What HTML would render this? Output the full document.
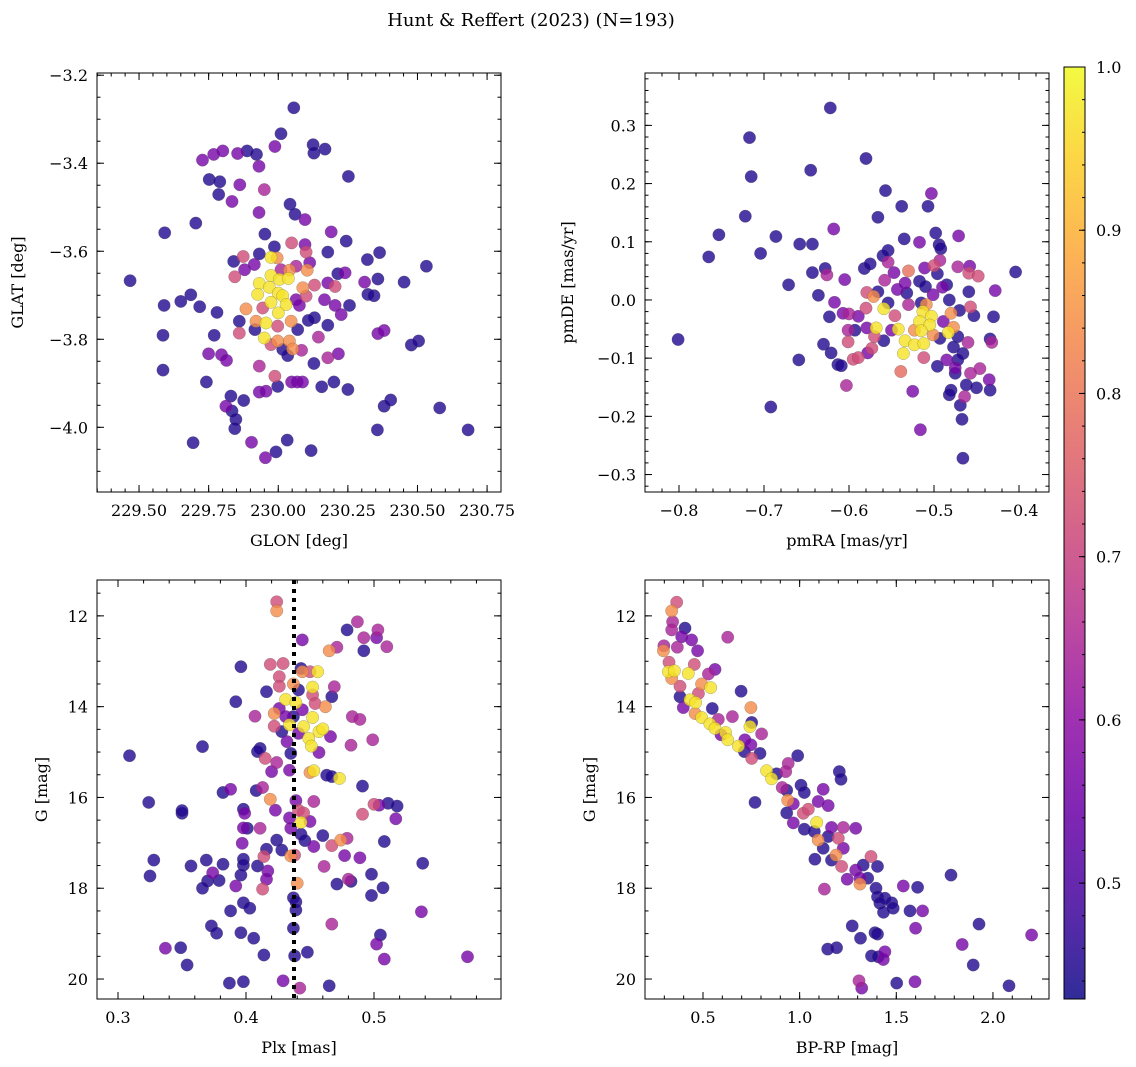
<!DOCTYPE html>
<html><head><meta charset="utf-8"><title>Hunt & Reffert (2023)</title>
<style>
html,body{margin:0;padding:0;background:#fff;}
svg{display:block;font-family:"DejaVu Serif","Liberation Serif",serif;}
</style></head>
<body>
<svg id="fig" width="1136" height="1067" viewBox="0 0 1136 1067" xmlns="http://www.w3.org/2000/svg">
<defs>
<linearGradient id="cbgrad" x1="0" y1="1" x2="0" y2="0"></linearGradient>
</defs>
<text x="531" y="26" font-size="18" text-anchor="middle">Hunt &amp; Reffert (2023) (N=193)</text>
</svg>
<script>
// ---------- Panel 1: GLON / GLAT ----------
const glon = [230.056,230.01,230.125,230.128,230.168,229.988,229.728,229.768,229.801,229.854,229.888,229.922,229.931,230.252,229.752,229.79,229.862,229.786,229.95,229.834,230.042,230.06,230.096,229.931,229.704,229.592,229.952,230.19,230.244,230.178,230.364,230.32,230.532,229.468,229.986,230.048,230.096,230.1,229.932,229.874,229.84,229.914,229.879,229.844,230.113,230.104,230.064,230.04,229.974,229.996,230.01,229.974,230.004,230.036,229.932,229.968,229.926,230.0,230.016,229.974,230.028,230.0,229.956,229.95,230.088,230.13,230.178,230.204,230.214,230.24,230.31,230.358,230.452,230.322,230.344,230.1,230.064,230.076,230.166,230.204,230.256,230.226,230.13,230.108,230.178,230.07,230.046,230.144,229.884,229.944,229.92,229.916,229.998,229.86,229.86,229.998,230.04,230.052,230.084,230.016,230.034,229.974,229.59,229.65,229.686,229.718,229.78,229.586,229.77,230.358,230.38,230.478,230.504,229.75,229.796,229.814,229.586,229.932,230.128,230.216,230.178,229.988,229.742,229.998,230.048,230.068,230.087,230.156,230.2,230.25,229.932,229.956,229.83,229.876,229.812,229.834,229.848,229.844,230.38,230.404,230.58,230.356,230.682,229.694,229.904,230.032,230.118,229.992,229.954];
const glat = [-3.274,-3.333,-3.358,-3.377,-3.368,-3.362,-3.393,-3.380,-3.372,-3.378,-3.372,-3.380,-3.407,-3.430,-3.437,-3.442,-3.449,-3.471,-3.46,-3.487,-3.493,-3.516,-3.528,-3.512,-3.536,-3.558,-3.561,-3.556,-3.577,-3.602,-3.603,-3.619,-3.634,-3.667,-3.590,-3.581,-3.585,-3.602,-3.606,-3.612,-3.623,-3.630,-3.642,-3.658,-3.626,-3.643,-3.634,-3.643,-3.614,-3.615,-3.642,-3.655,-3.664,-3.662,-3.673,-3.682,-3.698,-3.695,-3.701,-3.716,-3.721,-3.740,-3.763,-3.797,-3.683,-3.677,-3.672,-3.680,-3.651,-3.649,-3.670,-3.663,-3.670,-3.698,-3.701,-3.702,-3.710,-3.723,-3.710,-3.723,-3.723,-3.744,-3.751,-3.757,-3.768,-3.778,-3.759,-3.795,-3.731,-3.729,-3.759,-3.778,-3.770,-3.759,-3.786,-3.804,-3.804,-3.822,-3.825,-3.823,-3.837,-3.812,-3.723,-3.714,-3.699,-3.726,-3.739,-3.791,-3.791,-3.787,-3.780,-3.813,-3.804,-3.833,-3.835,-3.848,-3.870,-3.861,-3.855,-3.833,-3.842,-3.884,-3.897,-3.907,-3.897,-3.897,-3.897,-3.908,-3.897,-3.914,-3.920,-3.918,-3.929,-3.939,-3.952,-3.963,-3.982,-4.003,-3.952,-3.938,-3.956,-4.006,-4.006,-4.035,-4.034,-4.029,-4.053,-4.056,-4.069];
const probPos = [.45,.45,.45,.45,.45,.56,.56,.56,.56,.56,.45,.45,.56,.45,.45,.45,.56,.45,.64,.56,.45,.45,.56,.56,.45,.45,.45,.56,.45,.45,.45,.45,.45,.45,.45,.72,.56,.72,.45,.72,.45,.56,.56,.72,.56,.84,.64,.84,.97,.84,.64,.97,.97,.97,.97,.97,.97,.97,.97,.97,.97,.97,.97,.97,.84,.72,.56,.72,.45,.56,.56,.45,.45,.45,.45,.72,.56,.56,.56,.56,.45,.56,.45,.45,.45,.45,.84,.64,.84,.72,.84,.45,.72,.45,.72,.84,.84,.84,.64,.45,.45,.72,.45,.45,.45,.45,.45,.45,.45,.56,.56,.45,.45,.56,.56,.56,.45,.64,.45,.56,.64,.72,.45,.45,.56,.56,.56,.45,.45,.45,.56,.56,.45,.45,.56,.45,.45,.45,.45,.45,.45,.45,.45,.45,.56,.45,.45,.45,.56];
const glonTicks = [229.50,229.75,230.00,230.25,230.50,230.75];
const glatTicks = [-3.2,-3.4,-3.6,-3.8,-4.0];

// ---------- Panel 2: proper motions ----------
const pmra = [-0.622,-0.717,-0.715,-0.645,-0.580,-0.557,-0.503,-0.538,-0.507,-0.722,-0.566,-0.753,-0.686,-0.618,-0.535,-0.498,-0.471,-0.517,-0.494,-0.492,-0.765,-0.704,-0.658,-0.643,-0.554,-0.560,-0.404,-0.628,-0.643,-0.626,-0.605,-0.671,-0.636,-0.582,-0.575,-0.554,-0.547,-0.530,-0.511,-0.500,-0.493,-0.472,-0.458,-0.459,-0.448,-0.496,-0.558,-0.534,-0.517,-0.510,-0.490,-0.485,-0.459,-0.428,-0.579,-0.571,-0.566,-0.543,-0.532,-0.501,-0.482,-0.617,-0.580,-0.559,-0.554,-0.530,-0.515,-0.509,-0.513,-0.503,-0.480,-0.470,-0.457,-0.453,-0.430,-0.623,-0.607,-0.600,-0.589,-0.546,-0.517,-0.505,-0.489,-0.477,-0.568,-0.542,-0.523,-0.515,-0.501,-0.483,-0.601,-0.593,-0.579,-0.550,-0.570,-0.559,-0.534,-0.523,-0.512,-0.493,-0.472,-0.460,-0.434,-0.432,-0.601,-0.801,-0.630,-0.621,-0.578,-0.573,-0.536,-0.512,-0.477,-0.466,-0.659,-0.613,-0.609,-0.595,-0.589,-0.496,-0.485,-0.475,-0.472,-0.475,-0.457,-0.446,-0.435,-0.539,-0.603,-0.462,-0.450,-0.434,-0.480,-0.482,-0.464,-0.525,-0.469,-0.692,-0.467,-0.516,-0.466];
const pmde = [0.330,0.279,0.212,0.223,0.243,0.188,0.183,0.161,0.161,0.144,0.142,0.112,0.109,0.122,0.105,0.115,0.110,0.099,0.095,0.088,0.074,0.080,0.096,0.096,0.085,0.076,0.048,0.054,0.047,0.043,0.035,0.026,0.008,0.054,0.062,0.065,0.047,0.050,0.055,0.059,0.068,0.057,0.058,0.046,0.041,0.045,0.034,0.029,0.032,0.023,0.022,0.026,0.014,0.016,0.013,0.006,0.014,0.018,0.012,0.009,0.000,-0.004,-0.014,-0.015,-0.005,-0.008,-0.005,-0.008,-0.020,-0.028,-0.023,-0.018,-0.012,-0.027,-0.029,-0.029,-0.023,-0.024,-0.028,-0.027,-0.037,-0.043,-0.037,-0.047,-0.048,-0.050,-0.052,-0.053,-0.060,-0.056,-0.052,-0.052,-0.048,-0.052,-0.063,-0.070,-0.070,-0.077,-0.075,-0.066,-0.063,-0.073,-0.067,-0.073,-0.072,-0.068,-0.076,-0.091,-0.091,-0.083,-0.092,-0.099,-0.081,-0.092,-0.103,-0.111,-0.113,-0.102,-0.099,-0.114,-0.103,-0.117,-0.103,-0.126,-0.126,-0.118,-0.137,-0.123,-0.147,-0.146,-0.151,-0.155,-0.155,-0.163,-0.166,-0.157,-0.181,-0.184,-0.205,-0.223,-0.272];
const probPm = [.45,.45,.45,.45,.45,.45,.56,.45,.45,.45,.45,.45,.45,.56,.45,.45,.56,.56,.45,.45,.45,.45,.45,.45,.45,.45,.45,.45,.45,.64,.56,.45,.45,.45,.45,.64,.56,.79,.56,.72,.64,.64,.56,.72,.72,.45,.64,.56,.45,.45,.56,.45,.45,.56,.72,.84,.45,.56,.45,.56,.45,.56,.72,.97,.45,.64,.45,.84,.97,.97,.84,.45,.72,.45,.45,.45,.56,.64,.56,.72,.97,.97,.56,.84,.97,.97,.84,.97,.84,.97,.64,.45,.56,.56,.72,.45,.97,.97,.97,.45,.45,.64,.45,.64,.72,.45,.45,.45,.56,.72,.97,.72,.45,.45,.45,.45,.45,.72,.72,.45,.56,.56,.45,.45,.64,.64,.56,.78,.64,.45,.45,.45,.45,.45,.64,.56,.45,.45,.45,.56,.45];
const pmraTicks = [-0.8,-0.7,-0.6,-0.5,-0.4];
const pmdeTicks = [0.3,0.2,0.1,0.0,-0.1,-0.2,-0.3];

// ---------- Panel 3: parallax / G ----------
const plx = [0.424,0.424,0.487,0.479,0.503,0.492,0.502,0.444,0.471,0.465,0.510,0.492,0.396,0.419,0.429,0.443,0.444,0.450,0.456,0.426,0.426,0.437,0.452,0.441,0.469,0.416,0.467,0.452,0.392,0.431,0.439,0.444,0.454,0.462,0.426,0.422,0.407,0.431,0.437,0.452,0.483,0.489,0.422,0.434,0.445,0.428,0.441,0.457,0.460,0.449,0.466,0.432,0.451,0.482,0.499,0.366,0.309,0.411,0.409,0.415,0.435,0.457,0.424,0.420,0.434,0.450,0.453,0.463,0.467,0.473,0.491,0.382,0.388,0.408,0.413,0.324,0.419,0.439,0.453,0.500,0.504,0.511,0.518,0.350,0.350,0.398,0.399,0.423,0.441,0.445,0.434,0.443,0.450,0.491,0.517,0.398,0.401,0.411,0.435,0.443,0.460,0.446,0.424,0.397,0.416,0.428,0.453,0.467,0.474,0.479,0.508,0.414,0.435,0.438,0.477,0.489,0.328,0.369,0.382,0.398,0.398,0.409,0.461,0.538,0.357,0.325,0.374,0.396,0.417,0.416,0.370,0.379,0.366,0.392,0.413,0.440,0.471,0.480,0.482,0.498,0.507,0.498,0.437,0.439,0.439,0.398,0.403,0.388,0.537,0.373,0.377,0.396,0.406,0.437,0.467,0.505,0.502,0.337,0.349,0.414,0.438,0.448,0.508,0.573,0.354,0.387,0.398,0.429,0.442,0.465];
const gmagPlx = [11.69,11.89,12.13,12.31,12.31,12.48,12.48,12.53,12.69,12.77,12.68,12.77,13.12,13.07,13.05,13.16,13.23,13.23,13.23,13.34,13.55,13.50,13.57,13.63,13.56,13.67,13.78,13.74,13.89,13.84,13.91,14.07,13.93,14.00,14.04,14.15,14.21,14.22,14.22,14.24,14.22,14.28,14.43,14.40,14.44,14.55,14.59,14.55,14.49,14.70,14.66,14.77,14.87,14.85,14.73,14.88,15.08,14.92,14.99,15.14,15.03,15.01,15.23,15.43,15.40,15.45,15.41,15.51,15.54,15.58,15.75,15.89,15.82,15.85,15.78,16.11,16.04,16.07,16.09,16.15,16.17,16.13,16.19,16.35,16.29,16.26,16.35,16.28,16.28,16.34,16.45,16.55,16.53,16.37,16.47,16.67,16.68,16.68,16.68,16.81,16.84,16.95,16.94,17.01,17.14,17.16,17.08,17.06,16.94,16.90,16.97,17.30,17.29,17.27,17.28,17.33,17.38,17.38,17.47,17.36,17.49,17.51,17.52,17.45,17.51,17.73,17.66,17.71,17.62,17.80,17.84,17.83,18.00,17.95,18.02,17.89,17.91,17.80,17.85,17.69,17.99,18.16,18.21,18.30,18.48,18.32,18.44,18.50,18.52,18.83,18.99,18.98,19.10,18.88,18.79,19.03,19.23,19.32,19.31,19.47,19.49,19.41,19.56,19.51,19.69,20.09,20.06,20.04,20.20,20.15];
const probPlx = [.72,.84,.64,.45,.64,.64,.56,.56,.64,.84,.64,.45,.45,.72,.72,.45,.84,.72,.97,.72,.72,.84,.97,.45,.64,.45,.45,.72,.45,.97,.97,.56,.72,.84,.56,.84,.64,.56,.45,.97,.64,.64,.72,.97,.97,.45,.56,.97,.97,.97,.56,.56,.97,.64,.64,.45,.45,.45,.45,.72,.45,.56,.64,.56,.56,.84,.97,.45,.45,.97,.45,.45,.56,.45,.64,.45,.84,.56,.64,.72,.56,.45,.45,.45,.45,.45,.56,.56,.72,.72,.56,.97,.56,.72,.56,.56,.45,.64,.56,.45,.45,.45,.45,.56,.45,.45,.56,.72,.84,.64,.45,.72,.84,.72,.56,.56,.45,.45,.45,.45,.45,.45,.64,.45,.45,.45,.56,.45,.56,.56,.45,.45,.45,.56,.72,.84,.45,.64,.45,.45,.45,.45,.45,.45,.45,.45,.45,.45,.56,.45,.45,.45,.45,.45,.64,.45,.56,.56,.45,.45,.45,.45,.56,.56,.45,.45,.45,.56,.64,.45,.45];
const plxTicks = [0.3,0.4,0.5];
const gTicks = [12,14,16,18,20];
const plxMean = [0.4375];

// ---------- Panel 4: colour-magnitude diagram ----------
const bprp = [0.364,0.338,0.343,0.338,0.407,0.390,0.441,0.628,0.298,0.367,0.472,0.295,0.324,0.455,0.321,0.352,0.338,0.424,0.528,0.562,0.381,0.493,0.540,0.476,0.697,0.381,0.433,0.462,0.398,0.548,0.459,0.748,0.493,0.579,0.652,0.536,0.562,0.743,0.752,0.617,0.593,0.803,0.628,0.683,0.717,0.748,0.714,0.795,0.752,0.990,0.941,0.928,0.829,0.855,0.881,1.205,1.214,0.910,0.933,1.007,1.024,1.122,0.769,0.938,0.967,1.096,1.148,0.933,0.967,1.019,1.045,1.088,1.024,1.076,1.096,1.165,1.226,1.290,1.200,1.148,1.122,1.079,1.226,1.188,1.165,1.217,1.369,1.329,1.403,1.290,1.246,1.312,1.312,1.352,1.128,1.395,1.403,1.441,1.415,1.476,1.484,1.434,1.536,1.610,1.783,1.571,1.636,1.600,1.928,1.272,1.315,1.390,1.403,1.145,1.191,1.372,1.407,1.433,1.441,1.841,1.898,2.200,1.307,1.321,1.502,1.597,2.083];
const gmagCmd = [11.70,11.89,12.13,12.31,12.27,12.46,12.53,12.47,12.66,12.69,12.77,12.77,13.02,13.07,13.23,13.21,13.38,13.27,13.28,13.18,13.55,13.50,13.58,13.71,13.66,13.78,13.85,13.91,14.02,14.04,14.15,14.02,14.24,14.28,14.22,14.38,14.48,14.44,14.35,14.57,14.62,14.60,14.73,14.87,14.73,14.84,14.99,15.03,15.14,15.08,15.25,15.43,15.41,15.59,15.48,15.43,15.60,15.78,15.84,15.73,15.89,15.82,16.11,16.06,16.14,16.09,16.18,16.34,16.56,16.35,16.26,16.55,16.70,16.75,16.94,16.66,16.66,16.68,16.90,16.86,17.12,17.36,17.12,17.27,17.38,17.52,17.30,17.49,17.52,17.60,17.80,17.78,17.91,17.78,18.02,18.00,18.19,18.22,18.33,18.32,18.44,18.53,17.95,17.98,17.71,18.50,18.50,18.88,18.79,18.83,19.10,18.98,19.01,19.34,19.31,19.49,19.51,19.57,19.40,19.24,19.69,19.03,20.04,20.20,20.09,20.06,20.15];
const probCmd = [.72,.84,.64,.64,.45,.56,.56,.64,.64,.64,.56,.84,.72,.72,.97,.97,.84,.97,.64,.56,.72,.84,.97,.72,.45,.45,.97,.97,.56,.45,.84,.84,.97,.64,.64,.97,.97,.97,.45,.97,.56,.64,.97,.97,.56,.56,.45,.45,.72,.45,.64,.64,.97,.97,.45,.45,.45,.64,.45,.45,.45,.56,.45,.84,.56,.56,.56,.45,.56,.72,.72,.97,.45,.45,.84,.56,.64,.56,.72,.45,.45,.45,.56,.84,.45,.72,.72,.45,.45,.56,.56,.56,.84,.45,.64,.45,.45,.45,.45,.45,.45,.45,.56,.45,.45,.45,.56,.56,.45,.45,.45,.45,.45,.45,.45,.45,.45,.56,.56,.56,.45,.56,.64,.56,.45,.56,.45];
const bprpTicks = [0.5,1.0,1.5,2.0];

// ---------- Colour bar ----------
const cbTicks = [0.5,0.6,0.7,0.8,0.9,1.0];
const cbMin = 0.429, cbMax = 1.0;

const NS = "http://www.w3.org/2000/svg";
const svg = document.getElementById('fig');
const plasmaStops = [[0.0,[13,8,135]],[0.1,[65,4,157]],[0.2,[106,0,168]],[0.3,[143,13,164]],[0.4,[177,42,144]],[0.5,[204,71,120]],[0.6,[225,100,98]],[0.7,[242,132,75]],[0.8,[252,166,54]],[0.9,[252,206,37]],[1.0,[240,249,33]]];
function plasma(t){
  t = Math.max(0, Math.min(1, t));
  for (let i = 1; i < plasmaStops.length; i++){
    if (t <= plasmaStops[i][0]){
      const a = plasmaStops[i-1], b = plasmaStops[i];
      const f = (t - a[0]) / (b[0] - a[0]);
      const c = a[1].map((v, k) => Math.round(v + (b[1][k] - v) * f));
      return 'rgb(' + c.join(',') + ')';
    }
  }
  return 'rgb(240,249,33)';
}
function el(tag, attrs, parent){
  const e = document.createElementNS(NS, tag);
  for (const k in attrs) e.setAttribute(k, attrs[k]);
  (parent || svg).appendChild(e);
  return e;
}
function fmt(v, d){
  const s = Math.abs(v).toFixed(d);
  return (v < -1e-9 ? '\u2212' : '') + s;
}

function panel(cfg){
  const g = el('g', {});
  
  
  const X = v => cfg.x0 + (v - cfg.xa) / (cfg.xb - cfg.xa) * cfg.w;
  const Y = v => cfg.y0 + (v - cfg.ya) / (cfg.yb - cfg.ya) * cfg.h;
  // points sorted by probability so high membership on top
  const n = Math.min(cfg.xs.length, cfg.ys.length, cfg.ps.length);
  const idx = [];
  for (let i = 0; i < n; i++) idx.push(i);
  idx.sort((a, b) => cfg.ps[a] - cfg.ps[b]);
  const pg = el('g', {}, g);
  
  
  idx.forEach(i => {
    const c = el('circle', {cx: X(cfg.xs[i]).toFixed(1), cy: Y(cfg.ys[i]).toFixed(1), r: 6.2,
      fill: plasma((cfg.ps[i] - cbMin) / (cbMax - cbMin)), 'fill-opacity': 0.8,
      stroke: '#555', 'stroke-width': 0.4, 'stroke-opacity': 0.6}, pg);
    
    
  });
  if (cfg.vline){
    cfg.vline.forEach(v => {
      const l = el('line', {x1: X(v), x2: X(v), y1: cfg.y0, y2: cfg.y0 + cfg.h, stroke: '#000', 'stroke-width': 4, 'stroke-dasharray': '4 5'}, g);
      
      
    });
  }
  // frame
  const fr = el('rect', {x: cfg.x0, y: cfg.y0, width: cfg.w, height: cfg.h, fill: 'none', stroke: '#000', 'stroke-width': 1}, g);
  
  
  const tk = el('g', {stroke: '#000', 'stroke-width': 1}, g);
  
  
  const xlo = Math.min(cfg.xa, cfg.xb), xhi = Math.max(cfg.xa, cfg.xb);
  const ylo = Math.min(cfg.ya, cfg.yb), yhi = Math.max(cfg.ya, cfg.yb);
  // minor ticks
  for (let v = Math.ceil(xlo / cfg.xm - 1e-6) * cfg.xm; v <= xhi + 1e-9; v += cfg.xm){
    const px = X(v);
    el('line', {x1: px, x2: px, y1: cfg.y0 + cfg.h, y2: cfg.y0 + cfg.h - 3.5}, tk);
    el('line', {x1: px, x2: px, y1: cfg.y0, y2: cfg.y0 + 3.5}, tk);
  }
  for (let v = Math.ceil(ylo / cfg.ym - 1e-6) * cfg.ym; v <= yhi + 1e-9; v += cfg.ym){
    const py = Y(v);
    el('line', {x1: cfg.x0, x2: cfg.x0 + 3.5, y1: py, y2: py}, tk);
    el('line', {x1: cfg.x0 + cfg.w, x2: cfg.x0 + cfg.w - 3.5, y1: py, y2: py}, tk);
  }
  // major ticks + labels
  cfg.xt.forEach(v => {
    const px = X(v);
    el('line', {x1: px, x2: px, y1: cfg.y0 + cfg.h, y2: cfg.y0 + cfg.h - 7}, tk);
    el('line', {x1: px, x2: px, y1: cfg.y0, y2: cfg.y0 + 7}, tk);
    const t = el('text', {x: px, y: cfg.y0 + cfg.h + 24, 'font-size': 16, 'text-anchor': 'middle'}, g);
    t.textContent = fmt(v, cfg.xd);
    
    
  });
  cfg.yt.forEach(v => {
    const py = Y(v);
    el('line', {x1: cfg.x0, x2: cfg.x0 + 7, y1: py, y2: py}, tk);
    el('line', {x1: cfg.x0 + cfg.w, x2: cfg.x0 + cfg.w - 7, y1: py, y2: py}, tk);
    const t = el('text', {x: cfg.x0 - 9, y: py + 6, 'font-size': 16, 'text-anchor': 'end'}, g);
    t.textContent = fmt(v, cfg.yd);
    
    
  });
  const xl = el('text', {x: cfg.x0 + cfg.w / 2, y: cfg.y0 + cfg.h + 54, 'font-size': 16, 'text-anchor': 'middle'}, g);
  xl.textContent = cfg.xlabel;
  
  
  const cy = cfg.y0 + cfg.h / 2;
  const yl = el('text', {x: cfg.ylx, y: cy, 'font-size': 16, 'text-anchor': 'middle', transform: 'rotate(-90 ' + cfg.ylx + ' ' + cy + ')'}, g);
  yl.textContent = cfg.ylabel;
  
  
}

panel({name: 'position-panel', x0: 97, y0: 73, w: 404, h: 419, xa: 229.349, xb: 230.800, ya: -3.195, yb: -4.147,
  xs: glon, ys: glat, ps: probPos, xt: glonTicks, yt: glatTicks, xm: 0.05, ym: 0.05, xd: 2, yd: 1,
  xlabel: 'GLON [deg]', ylabel: 'GLAT [deg]', ylx: 23});
panel({name: 'proper-motion-panel', x0: 645, y0: 73, w: 404, h: 419, xa: -0.840, xb: -0.3647, ya: 0.390, yb: -0.330,
  xs: pmra, ys: pmde, ps: probPm, xt: pmraTicks, yt: pmdeTicks, xm: 0.02, ym: 0.02, xd: 1, yd: 1,
  xlabel: 'pmRA [mas/yr]', ylabel: 'pmDE [mas/yr]', ylx: 573});
panel({name: 'parallax-panel', x0: 97, y0: 580, w: 404, h: 419, xa: 0.2836, xb: 0.5992, ya: 11.21, yb: 20.44,
  xs: plx, ys: gmagPlx, ps: probPlx, xt: plxTicks, yt: gTicks, xm: 0.02, ym: 0.5, xd: 1, yd: 0,
  xlabel: 'Plx [mas]', ylabel: 'G [mag]', ylx: 47, vline: plxMean});
panel({name: 'cmd-panel', x0: 645, y0: 580, w: 404, h: 419, xa: 0.200, xb: 2.290, ya: 11.21, yb: 20.44,
  xs: bprp, ys: gmagCmd, ps: probCmd, xt: bprpTicks, yt: gTicks, xm: 0.1, ym: 0.5, xd: 1, yd: 0,
  xlabel: 'BP-RP [mag]', ylabel: 'G [mag]', ylx: 595});

// colour bar
(function(){
  const grad = document.getElementById('cbgrad');
  for (let i = 0; i <= 20; i++){
    const t = i / 20;
    el('stop', {offset: t, 'stop-color': plasma(t)}, grad);
  }
  const x0 = 1064, y0 = 67, w = 21, h = 932;
  const Y = v => y0 + h - (v - cbMin) / (cbMax - cbMin) * h;
  const g = el('g', {});
  
  
  el('rect', {x: x0, y: y0, width: w, height: h, fill: 'url(#cbgrad)', 'fill-opacity': 0.85, stroke: '#000', 'stroke-width': 1}, g);
  for (let v = 0.44; v <= cbMax + 1e-9; v += 0.02){
    el('line', {x1: x0 + w, x2: x0 + w - 3, y1: Y(v), y2: Y(v), stroke: '#000', 'stroke-width': 1}, g);
  }
  cbTicks.forEach(v => {
    el('line', {x1: x0 + w, x2: x0 + w - 6, y1: Y(v), y2: Y(v), stroke: '#000', 'stroke-width': 1}, g);
    const t = el('text', {x: x0 + w + 11, y: Y(v) + 6, 'font-size': 16}, g);
    t.textContent = v.toFixed(1);
    
    
  });
})();
</script>
</body></html>
